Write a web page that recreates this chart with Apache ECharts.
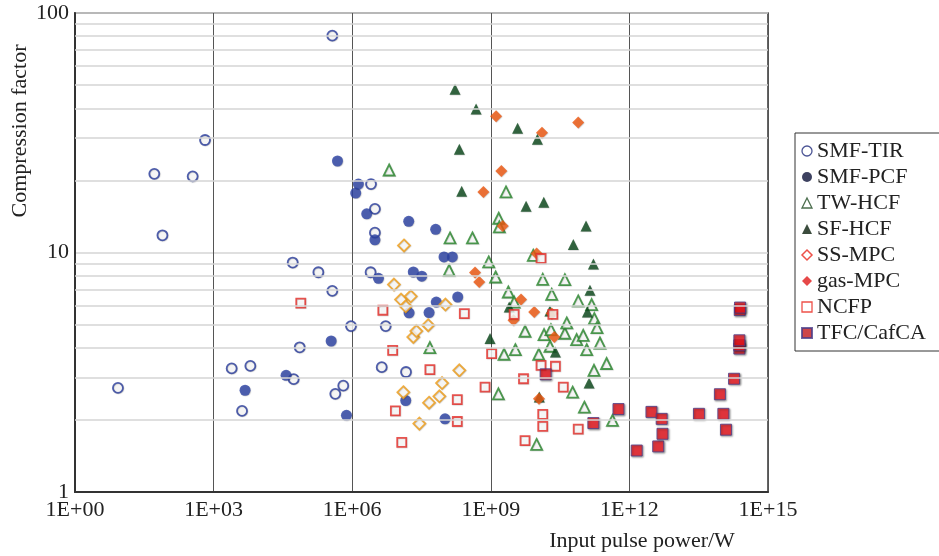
<!DOCTYPE html>
<html>
<head>
<meta charset="utf-8">
<script src="https://cdn.jsdelivr.net/npm/echarts@6/dist/echarts.min.js"></script>
<style>
  html, body { margin: 0; padding: 0; background: #fff; }
  #main { width: 939px; height: 556px; }
</style>
</head>
<body>
<div id="main"></div>
<script>
// [input pulse power (W), compression factor]
var smfTir = [[8.5,2.72],[52,21.3],[78,11.8],[352,20.8],[652,29.5],[2460,3.28],[4120,2.18],[6240,3.36],
  [5.15e4,9.08],[5.4e4,2.96],[7.3e4,4.02],[1.85e5,8.27],[3.7e5,80.4],[3.7e5,6.91],[4.3e5,2.57],[6.4e5,2.78],
  [9.4e5,4.93],[2.5e6,8.27],[2.55e6,19.3],[3.1e6,15.2],[3.1e6,12.1],[4.35e6,3.32],[5.3e6,4.93],[1.46e7,3.17]];
var smfPcf = [[4790,2.66],[3.7e4,3.07],[3.5e5,4.27],[4.8e5,24.1],[7.5e5,2.09],[1.19e6,17.7],[1.36e6,19.3],
  [2.06e6,14.5],[3.1e6,11.3],[3.7e6,7.8],[1.44e7,2.41],[1.67e7,13.5],[1.7e7,5.6],[2.1e7,8.29],[3.2e7,7.96],
  [4.6e7,5.61],[6.4e7,12.5],[6.6e7,6.21],[9.7e7,9.58],[1.02e8,2.02],[1.47e8,9.58],[1.92e8,6.52]];
var twHcf = [[6.3e6,22.1],[4.8e7,4.01],[1.25e8,8.43],[1.31e8,11.5],[4.0e8,11.5],[9.0e8,9.13],[1.27e9,7.9],
  [1.46e9,2.57],[1.48e9,13.9],[1.53e9,12.8],[1.93e9,3.76],[2.13e9,17.9],[2.39e9,6.84],[3.2e9,6.21],[3.4e9,3.93],
  [5.5e9,4.69],[8.3e9,9.73],[9.8e9,1.58],[1.09e10,3.76],[1.33e10,7.73],[1.42e10,4.54],[1.91e10,4.06],
  [2.0e10,4.76],[2.08e10,6.69],[4.0e10,7.7],[4.0e10,4.6],[4.4e10,5.08],[5.9e10,2.61],[7.2e10,4.33],
  [7.8e10,6.28],[1.0e11,4.51],[1.06e11,2.26],[1.19e11,3.93],[1.52e11,6.06],[1.71e11,3.22],[1.74e11,5.3],
  [1.99e11,4.86],[2.3e11,4.19],[3.2e11,3.44],[4.3e11,1.99]];
var sfHcf = [[1.68e8,48.0],[2.08e8,27.0],[2.34e8,18.0],[4.8e8,39.7],[9.6e8,4.37],[2.5e9,5.92],[3.8e9,33.0],
  [5.8e9,15.6],[1.02e10,29.7],[1.12e10,2.49],[1.4e10,16.2],[1.9e10,5.7],[2.5e10,3.84],[6.1e10,10.8],
  [1.15e11,12.9],[1.23e11,5.64],[1.34e11,2.85],[1.4e11,6.95],[1.66e11,8.96]];
var ssMpc = [[8.0e6,7.35],[1.14e7,6.36],[1.28e7,2.61],[1.32e7,10.7],[1.44e7,5.96],[1.85e7,6.56],[2.1e7,4.44],
  [2.44e7,4.7],[2.84e7,1.93],[4.4e7,4.97],[4.6e7,2.36],[7.7e7,2.51],[8.8e7,2.85],[1.04e8,6.06],[2.08e8,3.22]];
var gasMpc = [[4.55e8,8.25],[5.6e8,7.53],[6.9e8,17.9],[1.3e9,37.1],[1.69e9,21.9],[1.81e9,12.9],[3.1e9,5.21],
  [4.5e9,6.36],[8.7e9,5.64],[9.8e9,9.9],[1.1e10,2.45],[1.28e10,31.6],[2.08e10,5.56],[2.37e10,4.44],[7.8e10,34.9]];
var ncfp = [[7.7e4,6.15],[4.6e6,5.74],[7.5e6,3.9],[8.6e6,2.18],[1.18e7,1.61],[4.8e7,3.24],[1.88e8,2.43],
  [1.88e8,1.97],[2.67e8,5.56],[7.5e8,2.74],[1.04e9,3.78],[3.2e9,5.52],[5.1e9,2.97],[5.5e9,1.64],[1.22e10,9.44],
  [1.22e10,3.38],[1.33e10,2.11],[1.33e10,1.88],[2.2e10,5.52],[2.5e10,3.35],[3.7e10,2.74],[7.8e10,1.83]];
var tfcCafca = [[1.54e10,3.1],[1.66e11,1.94],[5.8e11,2.22],[1.44e12,1.49],[3.0e12,2.16],[4.2e12,1.55],
  [5.0e12,2.02],[5.2e12,1.75],[3.2e13,2.12],[9.1e13,2.56],[1.08e14,2.12],[1.23e14,1.82],[1.84e14,2.97],
  [2.4e14,3.97],[2.4e14,4.1],[2.4e14,4.3],[2.45e14,5.75],[2.48e14,5.89]];

// the last one sits a hair under 1e15 so the log rounding keeps it inside the axis
var xTickValues = [1, 1e3, 1e6, 1e9, 1e12, 0.99999999e15];
var yTickValues = [1, 10, 100];
var yMinorLines = [2, 3, 4, 5, 6, 7, 8, 9, 20, 30, 40, 50, 60, 70, 80, 90];

var serif = 'Liberation Serif';
var chart = echarts.init(document.getElementById('main'));

var openStyle = function (c) {
  return { color: '#fff', borderColor: c, borderWidth: 1.8,
    shadowColor: 'rgba(0,0,0,0.25)', shadowBlur: 1, shadowOffsetX: 0.5, shadowOffsetY: 0.5 };
};
var fillStyle = function (c) {
  return { color: c, shadowColor: 'rgba(0,0,0,0.3)', shadowBlur: 1, shadowOffsetX: 0.5, shadowOffsetY: 0.5 };
};

chart.setOption({
  animation: false,
  grid: { left: 75, right: 171, top: 13, bottom: 64, show: true, borderColor: '#333', borderWidth: 1.5 },
  xAxis: {
    type: 'log', logBase: 10, min: 1, max: 1e15,
    axisLine: { show: true, onZero: false, lineStyle: { color: '#333', width: 2 } },
    axisTick: { show: false, customValues: xTickValues },
    axisLabel: {
      customValues: xTickValues, margin: 7, showMaxLabel: true,
      fontFamily: serif, fontSize: 22, color: '#222',
      formatter: function (v) {
        var e = Math.round(Math.log10(v));
        return '1E+' + (e < 10 ? '0' + e : e);
      }
    },
    splitLine: { show: true, lineStyle: { color: '#555', width: 1 } }
  },
  yAxis: {
    type: 'log', logBase: 10, min: 1, max: 100,
    axisLine: { show: true, lineStyle: { color: '#333', width: 2 } },
    axisTick: { show: false, customValues: yTickValues },
    axisLabel: { customValues: yTickValues, margin: 6, fontFamily: serif, fontSize: 22, color: '#222' },
    splitLine: { show: true, lineStyle: { color: '#d4d4d4', width: 1.5 } }
  },
  legend: {
    orient: 'vertical', left: 795, top: 133,
    padding: [7, 22, 7, 6], itemGap: 4, itemWidth: 10, itemHeight: 10, itemTextGap: 12,
    borderColor: '#333', borderWidth: 1, borderRadius: 0,
    textStyle: { fontFamily: serif, fontSize: 22, lineHeight: 20, color: '#222' },
    data: [
      { name: 'SMF-TIR', icon: 'circle', itemStyle: { color: '#fff', borderColor: '#1f2a7a', borderWidth: 1.3, shadowBlur: 0 } },
      { name: 'SMF-PCF', icon: 'circle', itemStyle: { color: '#0c1238', shadowBlur: 0 } },
      { name: 'TW-HCF', icon: 'triangle', itemStyle: { color: '#fff', borderColor: '#1f4a22', borderWidth: 1.3, shadowBlur: 0 } },
      { name: 'SF-HCF', icon: 'triangle', itemStyle: { color: '#0a1f0c', shadowBlur: 0 } },
      { name: 'SS-MPC', icon: 'diamond', itemStyle: { color: '#fff', borderColor: '#e8261c', borderWidth: 1.5, shadowBlur: 0 } },
      { name: 'gas-MPC', icon: 'diamond', itemStyle: { color: '#e01a1a', shadowBlur: 0 } },
      { name: 'NCFP', icon: 'rect', itemStyle: { color: '#fff', borderColor: '#e8261c', borderWidth: 1.3, shadowBlur: 0 } },
      { name: 'TFC/CafCA', icon: 'rect', itemStyle: { color: '#c0161c', shadowBlur: 0 } }
    ]
  },
  graphic: [
    { type: 'text', x: 20, y: 131, rotation: Math.PI / 2,
      style: { text: 'Compression factor', fontFamily: serif, fontSize: 22, fill: '#222', align: 'center', verticalAlign: 'middle' } },
    { type: 'text', x: 642, y: 541,
      style: { text: 'Input pulse power/W', fontFamily: serif, fontSize: 22, fill: '#222', align: 'center', verticalAlign: 'middle' } }
  ],
  series: [
    { name: 'grid', type: 'scatter', data: [], silent: true, z: 1,
      markLine: { silent: true, symbol: 'none', label: { show: false },
        lineStyle: { color: '#d4d4d4', width: 1.5, type: 'solid' },
        data: yMinorLines.map(function (v) { return { yAxis: v }; }) } },
    { name: 'SMF-TIR', type: 'scatter', symbol: 'circle', symbolSize: 10, data: smfTir, itemStyle: openStyle('#2c3f9f'), z: 3 },
    { name: 'SMF-PCF', type: 'scatter', symbol: 'circle', symbolSize: 11, data: smfPcf, itemStyle: fillStyle('#2d43a6'), z: 3 },
    { name: 'TW-HCF', type: 'scatter', symbol: 'triangle', symbolSize: 11, data: twHcf, itemStyle: openStyle('#2b8a2e'), z: 3 },
    { name: 'SF-HCF', type: 'scatter', symbol: 'triangle', symbolSize: 11, data: sfHcf, itemStyle: fillStyle('#0c4a1d'), z: 3 },
    { name: 'SS-MPC', type: 'scatter', symbol: 'diamond', symbolSize: 12, data: ssMpc, itemStyle: openStyle('#f4a11c'), z: 3 },
    { name: 'gas-MPC', type: 'scatter', symbol: 'diamond', symbolSize: 12, data: gasMpc, itemStyle: fillStyle('#f25a12'), z: 3 },
    { name: 'NCFP', type: 'scatter', symbol: 'rect', symbolSize: 9, data: ncfp, itemStyle: openStyle('#e8302a'), z: 3 },
    { name: 'TFC/CafCA', type: 'scatter', symbol: 'rect', symbolSize: 11, data: tfcCafca, z: 3,
      itemStyle: { color: '#ec1820', borderColor: '#4a3d8a', borderWidth: 1,
        shadowColor: 'rgba(0,0,0,0.45)', shadowBlur: 2, shadowOffsetX: 1, shadowOffsetY: 1 } }
  ]
});
</script>
</body>
</html>
